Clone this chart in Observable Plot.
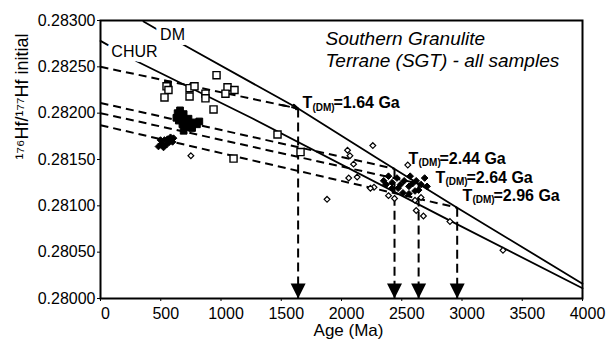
<!DOCTYPE html>
<html><head><meta charset="utf-8">
<script src="https://cdn.jsdelivr.net/npm/d3@7"></script>
<script src="https://cdn.jsdelivr.net/npm/@observablehq/plot@0.6"></script>
<style>body{margin:0;background:#fff}</style>
</head><body><div id="chart"></div>
<script>
// ---- axes ----
const xTicks = [0, 500, 1000, 1500, 2000, 2500, 3000, 3500, 4000];
const yTicks = [0.28000, 0.28050, 0.28100, 0.28150, 0.28200, 0.28250, 0.28300];

// ---- reference curves ----
const dmAge = [357, 700, 1640, 2300, 2960, 4000];
const dmHf  = [0.28299, 0.28273, 0.28205, 0.28151, 0.28098, 0.28016];
const churAge = [0, 300, 1250, 2900, 4000];
const churHf  = [0.28278, 0.28256, 0.28195, 0.28084, 0.28011];

// ---- model-age evolution lines ----
const tdmAge = [1640, 2440, 2640, 2960];
const tdmHf = [0.28205, 0.28140, 0.28124, 0.28098];
const tdmStartHf = [0.28250, 0.28211, 0.28200, 0.28187];
const tdmText = ["=1.64 Ga", "=2.44 Ga", "=2.64 Ga", "=2.96 Ga"];
const tdmLabelAge = [1676, 2556, 2780, 3004];
const tdmLabelHf = [0.282106, 0.281512, 0.281307, 0.281112];

// ---- samples ----
const openSqAge = [548, 564, 531, 739, 780, 739, 871, 871, 963, 1054, 1112, 1037, 938, 1469, 1104, 1660];
const openSqHf  = [0.28229, 0.28225, 0.28217, 0.28227, 0.28229, 0.28218, 0.28221, 0.28216, 0.28241, 0.28228, 0.28225, 0.28221, 0.28204, 0.28177, 0.28151, 0.28158];
const fillSqAge = [640, 660, 690, 650, 710, 730, 680, 710, 750, 780, 800, 690, 630, 760, 820, 660, 770, 560];
const fillSqHf  = [0.28200, 0.28197, 0.28199, 0.28192, 0.28192, 0.28194, 0.28188, 0.28185, 0.28188, 0.28190, 0.28188, 0.28181, 0.28195, 0.28184, 0.28191, 0.28203, 0.28229, 0.28231];
const openDiAge = [750, 2260, 2050, 2070, 2100, 2060, 2130, 2270, 1880, 2550, 2390, 2440, 2610, 2620, 2680, 2900, 3340, 2660, 2240];
const openDiHf  = [0.28154, 0.28165, 0.28160, 0.28154, 0.28145, 0.28130, 0.28131, 0.28120, 0.28107, 0.28144, 0.28111, 0.28108, 0.28106, 0.28095, 0.28089, 0.28083, 0.28052, 0.28109, 0.28119];
const fillDiAge = [481, 506, 531, 556, 581, 606, 498, 548, 573, 523, 598,
  2350, 2390, 2420, 2460, 2490, 2520, 2470, 2560, 2590, 2620, 2660, 2640, 2690, 2570, 2420, 2510, 2610, 2710, 2370, 2560];
const fillDiHf  = [0.28164, 0.28167, 0.28171, 0.28172, 0.28174, 0.28173, 0.28171, 0.28166, 0.28169, 0.28163, 0.28169,
  0.28127, 0.28132, 0.28125, 0.28130, 0.28123, 0.28127, 0.28119, 0.28121, 0.28124, 0.28127, 0.28123, 0.28117, 0.28130, 0.28132, 0.28119, 0.28114, 0.28116, 0.28121, 0.28123, 0.28113];

const titleText = "Southern Granulite\nTerrane (SGT) - all samples";
const xLabel = "Age (Ma)";
const yLabel = "¹⁷⁶Hf/¹⁷⁷Hf initial";

// ---- tables ----
const zip = (a, b) => a.map((v, i) => ({age: v, hf: b[i]}));
const dm = zip(dmAge, dmHf);
const chur = zip(churAge, churHf);
const evo = tdmAge.map((a, i) => ({age: a, end: tdmHf[i], start: tdmStartHf[i], text: tdmText[i], la: tdmLabelAge[i], lh: tdmLabelHf[i]}));
const arrowRow = [evo[0]].map(d => ({x1: d.age - 140, y1: d.start + (d.end - d.start) * (d.age - 140) / d.age, x2: d.age, y2: d.end}));
const curveLabels = [{t: "DM", age: 598, hf: 0.28285}, {t: "CHUR", age: 282, hf: 0.28266}];

const triDown = {draw(ctx, size) { const s = Math.sqrt(size / Math.PI); ctx.moveTo(-1.5 * s, -3 * s); ctx.lineTo(1.5 * s, -3 * s); ctx.lineTo(0, 0); ctx.closePath(); }};
const font = "'Liberation Sans', Arial, Helvetica, sans-serif";

const chart = Plot.plot({
  width: 608, height: 344,
  marginLeft: 100, marginRight: 26, marginTop: 20, marginBottom: 46,
  style: {fontFamily: font, fontSize: "16px", background: "white", color: "black"},
  x: {domain: [0, 4000], label: null},
  y: {domain: [0.28, 0.283], label: null},
  marks: [
    Plot.axisY(yTicks, {tickSize: 3, tickPadding: 2, tickFormat: d3.format(".5f"), label: null}),
    Plot.axisX(xTicks, {tickSize: 3, tickFormat: () => "", label: null}),
    Plot.axisX(xTicks, {tickSize: 0, tickPadding: 9, dx: 5, tickFormat: d3.format("d"), label: null}),
    Plot.line(dm, {x: "age", y: "hf", stroke: "black", strokeWidth: 1.8}),
    Plot.line(chur, {x: "age", y: "hf", stroke: "black", strokeWidth: 1.8}),
    Plot.link(evo, {x1: () => 0, y1: "start", x2: "age", y2: "end", stroke: "black", strokeWidth: 2, strokeDasharray: "8,5"}),
    Plot.link(evo, {x1: "age", y1: "end", x2: "age", y2: () => 0.28, stroke: "black", strokeWidth: 2, strokeDasharray: "9,5"}),
    Plot.arrow(arrowRow, {x1: "x1", y1: "y1", x2: "x2", y2: "y2", stroke: "black", strokeWidth: 2, headLength: 9, strokeDasharray: "8,5"}),
    Plot.dot(evo, {x: "age", y: () => 0.28, symbol: triDown, r: 5, fill: "black", stroke: "none"}),
    Plot.dot(zip(fillDiAge, fillDiHf), {x: "age", y: "hf", symbol: "diamond2", r: 3, fill: "black", stroke: "black", strokeWidth: 1}),
    Plot.dot(zip(openDiAge, openDiHf), {x: "age", y: "hf", symbol: "diamond2", r: 2.6, fill: "white", stroke: "black", strokeWidth: 1.2}),
    Plot.dot(zip(fillSqAge, fillSqHf), {x: "age", y: "hf", symbol: "square", r: 3.8, fill: "black", stroke: "black", strokeWidth: 1}),
    Plot.dot(zip(openSqAge, openSqHf), {x: "age", y: "hf", symbol: "square", r: 4, fill: "white", stroke: "black", strokeWidth: 1.4}),
    Plot.frame({stroke: "black", strokeWidth: 2}),
    Plot.text(curveLabels, {x: "age", y: "hf", text: "t", fontSize: 16, fill: "black", stroke: "white", strokeWidth: 10, paintOrder: "stroke"}),
    Plot.text(evo, {x: "la", y: "lh", text: () => "T", textAnchor: "start", fontSize: 16, fontWeight: "bold", fill: "black"}),
    Plot.text(evo, {x: "la", y: "lh", text: () => "(DM)", textAnchor: "start", dx: 10, dy: 4, fontSize: 10, fontWeight: "bold", fill: "black"}),
    Plot.text(evo, {x: "la", y: "lh", text: "text", textAnchor: "start", dx: 31, fontSize: 16, fontWeight: "bold", fill: "black"}),
    Plot.text([titleText], {frameAnchor: "top-left", text: d => d, textAnchor: "start", lineAnchor: "top", dx: 225, dy: 9, fontSize: 19, fontStyle: "italic", lineHeight: 1.16, fill: "black"}),
    Plot.text([xLabel], {frameAnchor: "bottom", text: d => d, dx: 7, dy: 37, fontSize: 17, fill: "black"}),
    Plot.text([yLabel], {frameAnchor: "left", text: d => d, dx: -78, rotate: -90, fontSize: 18, fill: "black"})
  ]
});
document.getElementById("chart").append(chart);
</script>
</body></html>
